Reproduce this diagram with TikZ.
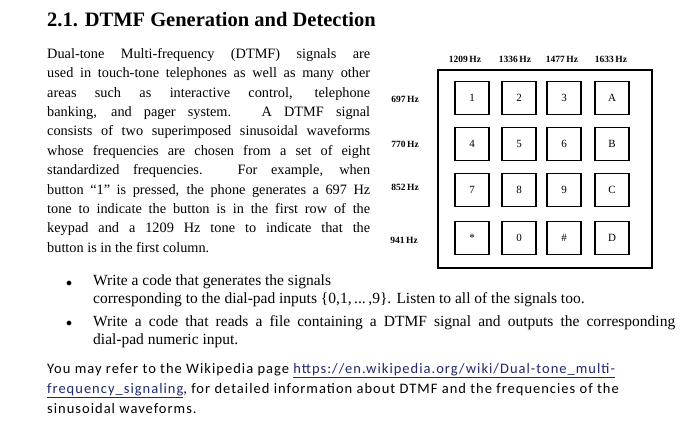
\documentclass[tikz,border=0pt]{standalone}
\usepackage{fontspec}
\setmainfont{Liberation Serif}
\newfontfamily\notefont[LetterSpace=7]{Carlito}
\definecolor{linkc}{RGB}{30,40,110}
\begin{document}
\begin{tikzpicture}[x=1pt,y=-1pt,
  key/.style={draw,line width=1.1pt,minimum width=34pt,minimum height=33pt,inner sep=0pt,font=\fontsize{11}{12}\selectfont},
  freq/.style={font=\bfseries\fontsize{9.5}{10}\selectfont,inner sep=0pt},
  txt/.style={anchor=north west,inner sep=0pt,align=left}]
\useasboundingbox (0,0) rectangle (700,428);
\node[anchor=west,inner sep=0pt,font=\bfseries\fontsize{20.5}{22}\selectfont] (title) at (47,20) {2.1. DTMF Generation and Detection};
\node[txt] (para) at (47,48) {\parbox{323pt}{\fontsize{14.3}{19.4}\selectfont\noindent
Dual-tone Multi-frequency (DTMF) signals are\linebreak
used in touch-tone telephones as well as many other\linebreak
areas such as interactive control, telephone\linebreak
banking, and pager system. A DTMF signal\linebreak
consists of two superimposed sinusoidal waveforms\linebreak
whose frequencies are chosen from a set of eight\linebreak
standardized frequencies. For example, when\linebreak
button “1” is pressed, the phone generates a 697 Hz\linebreak
tone to indicate the button is in the first row of the\linebreak
keypad and a 1209 Hz tone to indicate that the\linebreak
button is in the first column.}};
% keypad
\node[draw,line width=1.1pt,minimum width=214pt,minimum height=198pt,inner sep=0pt] (pad) at (545,169) {};
\foreach \lab/\x/\y [count=\i] in {1/472/98,2/519/98,3/564/98,A/612/98,4/472/144,5/519/144,6/564/144,B/612/144,7/472/190,8/519/190,9/564/190,C/612/190,*/472/238,0/519/238,\#/564/238,D/612/238}
  \node[key] (k\i) at (\x,\y) {\lab};
\node[freq] (c1) at (465,59) {1209\,Hz};
\node[freq] (c2) at (515,59) {1336\,Hz};
\node[freq] (c3) at (562,59) {1477\,Hz};
\node[freq] (c4) at (611,59) {1633\,Hz};
\node[freq] (r1) at (405,99) {697\,Hz};
\node[freq] (r2) at (405,144) {770\,Hz};
\node[freq] (r3) at (405,187) {852\,Hz};
\node[freq] (r4) at (404,240) {941\,Hz};
% bullets
\node[inner sep=0pt,font=\fontsize{13}{13}\selectfont] (b1) at (69,284) {$\bullet$};
\node[inner sep=0pt,font=\fontsize{13}{13}\selectfont] (b2) at (69,324) {$\bullet$};
\node[txt] (bt1) at (93,275) {\parbox{582pt}{\fontsize{15.5}{18}\selectfont\noindent
Write a code that generates the signals\newline
corresponding to the dial-pad inputs \{0,1,\,...\,,9\}. Listen to all of the signals too.}};
\node[txt] (bt2) at (93,315) {\parbox{582pt}{\fontsize{15.5}{18}\selectfont\noindent
Write a code that reads a file containing a DTMF signal and outputs the corresponding\linebreak
dial-pad numeric input.}};
% note
\node[txt] (note) at (47,363) {\parbox{640pt}{\notefont\fontsize{14.5}{20}\selectfont\noindent
You may refer to the Wikipedia page {\color{linkc}\underline{https://en.wikipedia.org/wiki/Dual-tone\_multi-}}\newline
{\color{linkc}\underline{frequency\_signaling}}, for detailed information about DTMF and the frequencies of the\newline
sinusoidal waveforms.}};
\end{tikzpicture}
\end{document}
